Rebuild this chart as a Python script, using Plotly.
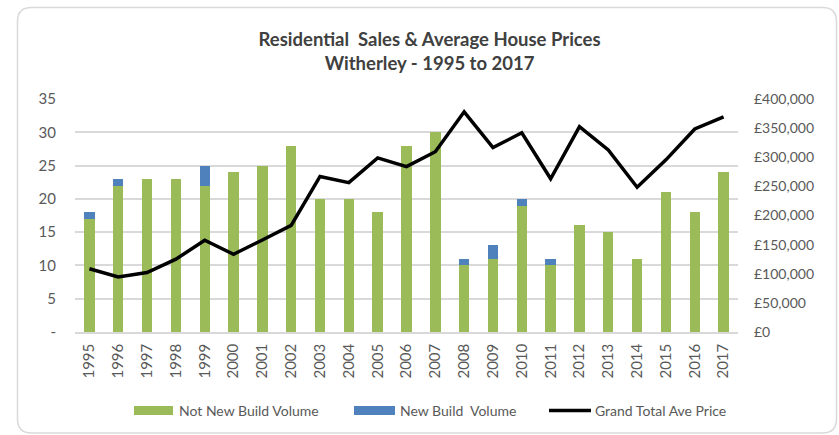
import plotly.graph_objects as go

years = [str(y) for y in range(1995, 2018)]
not_new_build = [17, 22, 23, 23, 22, 24, 25, 28, 20, 20, 18, 28, 30, 10, 11, 19, 10, 16, 15, 11, 21, 18, 24]
new_build = [1, 1, 0, 0, 3, 0, 0, 0, 0, 0, 0, 0, 0, 1, 2, 1, 1, 0, 0, 0, 0, 0, 0]
ave_price = [108500, 94500, 102000, 125000, 157500, 133500, 158000, 183000, 267000, 256500, 299000, 284000,
             309500, 378000, 316500, 342000, 263000, 352500, 312500, 248500, 295500, 348500, 369500]
left_ticks = [0, 5, 10, 15, 20, 25, 30, 35]
left_ticktext = ["-", "5", "10", "15", "20", "25", "30", "35"]
right_ticks = [0, 50000, 100000, 150000, 200000, 250000, 300000, 350000, 400000]
right_ticktext = ["£{:,}".format(v) for v in right_ticks]

GREEN = "#9BBB59"
BLUE = "#4F81BD"
FONT = "Lato, Calibri, Carlito, sans-serif"
TXT = "#595959"

fig = go.Figure()
fig.add_trace(go.Bar(x=years, y=not_new_build, name="Not New Build Volume", marker_color=GREEN,
                     marker_line_width=0, showlegend=False))
fig.add_trace(go.Bar(x=years, y=new_build, name="New Build  Volume", marker_color=BLUE,
                     marker_line_width=0, showlegend=False))
fig.add_trace(go.Scatter(x=years, y=ave_price, name="Grand Total Ave Price", yaxis="y2", mode="lines",
                         line=dict(color="black", width=3.5), showlegend=False))

# pixel -> paper helpers (plot area x 75..738, y 99..332)
L, R, T, B = 75, 738, 99, 332.3
def px(x):
    return (x - L) / (R - L)
def py(y):
    return (B - y) / (B - T)

shapes = []
# rounded border
x0, x1, y0, y1, r = 17.5, 836.5, 7.5, 433.5, 14
path = (f"M {px(x0+r)},{py(y0)} L {px(x1-r)},{py(y0)} Q {px(x1)},{py(y0)} {px(x1)},{py(y0+r)} "
        f"L {px(x1)},{py(y1-r)} Q {px(x1)},{py(y1)} {px(x1-r)},{py(y1)} "
        f"L {px(x0+r)},{py(y1)} Q {px(x0)},{py(y1)} {px(x0)},{py(y1-r)} "
        f"L {px(x0)},{py(y0+r)} Q {px(x0)},{py(y0)} {px(x0+r)},{py(y0)} Z")
shapes.append(dict(type="path", xref="paper", yref="paper", path=path,
                   line=dict(color="#D9D9D9", width=1.5), layer="below"))

# custom legend
ly = 411
legend_items = [
    ("rect", GREEN, 134, 173, "Not New Build Volume", 177),
    ("rect", BLUE, 354, 395, "New Build  Volume", 398),
    ("line", "black", 549, 591, "Grand Total Ave Price", 593),
]
annotations = []
for kind, col, a, b, label, tx in legend_items:
    if kind == "rect":
        shapes.append(dict(type="rect", xref="paper", yref="paper", x0=px(a), x1=px(b),
                           y0=py(ly + 4.5), y1=py(ly - 4.5), fillcolor=col, line_width=0))
    else:
        shapes.append(dict(type="line", xref="paper", yref="paper", x0=px(a), x1=px(b),
                           y0=py(ly), y1=py(ly), line=dict(color=col, width=3.5)))
    annotations.append(dict(xref="paper", yref="paper", x=px(tx), y=py(ly), text=label, showarrow=False,
                            xanchor="left", yanchor="middle", font=dict(family=FONT, size=14, color=TXT)))

fig.update_layout(
    width=839, height=435,
    margin=dict(l=75, r=101, t=99, b=103),
    paper_bgcolor="white", plot_bgcolor="white",
    barmode="stack", bargap=0.64,
    title=dict(text="<b>Residential  Sales & Average House Prices<br>Witherley - 1995 to 2017</b>",
               x=0.512, xanchor="center", y=0.895, yanchor="top",
               font=dict(family=FONT, size=18.5, color="#404040")),
    font=dict(family=FONT, size=15, color=TXT),
    xaxis=dict(type="category", tickangle=-90, showgrid=False, showline=True, linecolor="#D9D9D9",
               linewidth=1.5, ticks="", tickfont=dict(size=15, color=TXT), ticklabelstandoff=4),
    yaxis=dict(range=[0, 35], tickvals=left_ticks, ticktext=left_ticktext, showgrid=True,
               gridcolor="#D9D9D9", gridwidth=1.5, zeroline=False, ticks="", ticklabelstandoff=18,
               tickfont=dict(size=15, color=TXT)),
    yaxis2=dict(range=[0, 400000], overlaying="y", side="right", tickvals=right_ticks,
                ticktext=right_ticktext, showgrid=False, zeroline=False, ticks="",
                ticklabelstandoff=15, tickfont=dict(size=14, color=TXT)),
    shapes=shapes, annotations=annotations,
)

fig.write_html("out.html", config={"displayModeBar": False},
               post_script="document.body.style.margin='0';document.body.style.overflow='hidden';")
